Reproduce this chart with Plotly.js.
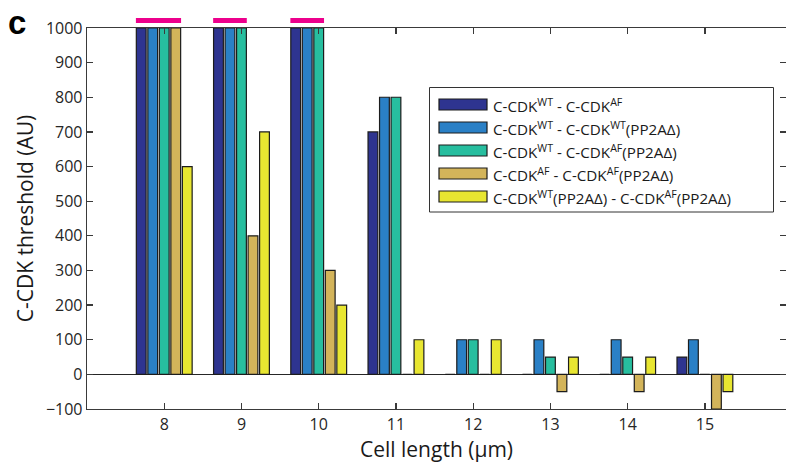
<!DOCTYPE html>
<html><head><meta charset="utf-8">
<script src="https://cdn.plot.ly/plotly-3.0.1.min.js"></script>
<style>html,body{margin:0;padding:0;background:#fff}</style>
</head><body>
<div id="chart" style="width:786px;height:468px"></div>
<script>
// ---- data ----
const cellLength = [8, 9, 10, 11, 12, 13, 14, 15];
const seriesNames = [
  "C-CDK<sup>WT</sup> - C-CDK<sup>AF</sup>",
  "C-CDK<sup>WT</sup> - C-CDK<sup>WT</sup>(PP2AΔ)",
  "C-CDK<sup>WT</sup> - C-CDK<sup>AF</sup>(PP2AΔ)",
  "C-CDK<sup>AF</sup> - C-CDK<sup>AF</sup>(PP2AΔ)",
  "C-CDK<sup>WT</sup>(PP2AΔ) - C-CDK<sup>AF</sup>(PP2AΔ)"
];
const wtVsAf          = [1000, 1000, 1000, 700,   0,   0,   0,   50];
const wtVsWtPP2A      = [1000, 1000, 1000, 800, 100, 100, 100,  100];
const wtVsAfPP2A      = [1000, 1000, 1000, 800, 100,  50,  50,    0];
const afVsAfPP2A      = [1000,  400,  300,   0,   0, -50, -50, -100];
const wtPP2AVsAfPP2A  = [ 600,  700,  200, 100, 100,  50,  50,  -50];
const yTickValues = [-100, 0, 100, 200, 300, 400, 500, 600, 700, 800, 900, 1000];
const xTickValues = [8, 9, 10, 11, 12, 13, 14, 15];
const saturationLevel = 1000;

// ---- styles ----
const colors = ["#2e3490", "#2a80c6", "#27be9f", "#d3b45a", "#e8e631"];
const seriesValues = [wtVsAf, wtVsWtPP2A, wtVsAfPP2A, afVsAfPP2A, wtPP2AVsAfPP2A];
const FONT = "Open Sans, sans-serif";
const W = 786, H = 468;
const M = {l: 87, r: 0, t: 28, b: 59};
const bargap = 0.255, bargroupgap = 0.15;

const traces = seriesValues.map((vals, i) => ({
  type: "bar",
  x: cellLength,
  y: vals,
  name: seriesNames[i],
  marker: {color: colors[i], line: {color: "#1c1c1c", width: 1.2}},
  showlegend: false,
  hoverinfo: "x+y"
}));

// helpers px -> paper
const plotW = W - M.l - M.r, plotH = H - M.t - M.b;
const px = x => (x - M.l) / plotW;
const py = y => (H - M.b - y) / plotH;

const shapes = [];
const annotations = [];

// pink saturation marks over bars that reached the top
const nSeries = seriesValues.length;
const groupW = 1 - bargap;
const slotW = groupW / nSeries;
cellLength.forEach((c, j) => {
  let n = 0;
  while (n < nSeries && seriesValues[n][j] >= saturationLevel) n++;
  if (n > 0) {
    const start = c - groupW / 2;
    shapes.push({
      type: "line", xref: "x", yref: "paper",
      x0: start + slotW * bargroupgap / 4, x1: start + n * slotW - slotW * bargroupgap / 4,
      y0: 1.02, y1: 1.02,
      line: {color: "#ec008c", width: 5}
    });
  }
});

// custom legend
shapes.push({type: "rect", xref: "paper", yref: "paper",
  x0: px(429.5), x1: px(773.5), y0: py(212), y1: py(87.5),
  fillcolor: "#ffffff", line: {color: "#333", width: 1}, layer: "above"});
const rowY = [104.5, 127.5, 150.5, 173.5, 196.5];
rowY.forEach((yy, i) => {
  shapes.push({type: "rect", xref: "paper", yref: "paper",
    x0: px(439), x1: px(487), y0: py(yy + 5.5), y1: py(yy - 5.5),
    fillcolor: colors[i], line: {color: "#1c1c1c", width: 1.2}, layer: "above"});
  annotations.push({xref: "paper", yref: "paper", x: px(491), y: py(yy + 1),
    xanchor: "left", yanchor: "middle", showarrow: false,
    text: seriesNames[i], font: {family: FONT, size: 15.2, color: "#1a1a1a"}});
});

// panel letter
annotations.push({xref: "paper", yref: "paper", x: px(6), y: py(2),
  xanchor: "left", yanchor: "top", showarrow: false,
  text: "<b>c</b>", font: {family: "Liberation Sans, Arial, sans-serif", size: 33, color: "#000"}});

const axisCommon = {
  showline: true, linecolor: "#3a3a3a", linewidth: 1.3,
  mirror: "ticks", ticks: "inside", tickcolor: "#3a3a3a", tickwidth: 1.3,
  showgrid: false,
  tickfont: {family: FONT, size: 16, color: "#262626"}
};

const layout = {
  width: W, height: H,
  margin: M,
  paper_bgcolor: "#fff", plot_bgcolor: "#fff",
  barmode: "group", bargap: bargap, bargroupgap: bargroupgap,
  xaxis: Object.assign({}, axisCommon, {
    range: [7, 16.05], tickvals: xTickValues, ticklen: 6, zeroline: false,
    title: {text: "Cell length (µm)", font: {family: FONT, size: 21, color: "#1a1a1a"}, standoff: 8}
  }),
  yaxis: Object.assign({}, axisCommon, {
    range: [-100, 1000], tickvals: yTickValues, ticklen: 6,
    zeroline: true, zerolinecolor: "#262626", zerolinewidth: 1.3,
    title: {text: "C-CDK threshold (AU)", font: {family: FONT, size: 21, color: "#1a1a1a"}, standoff: 6}
  }),
  shapes: shapes,
  annotations: annotations,
  showlegend: false
};

Plotly.newPlot("chart", traces, layout, {displayModeBar: false, staticPlot: true});
</script>
</body></html>
